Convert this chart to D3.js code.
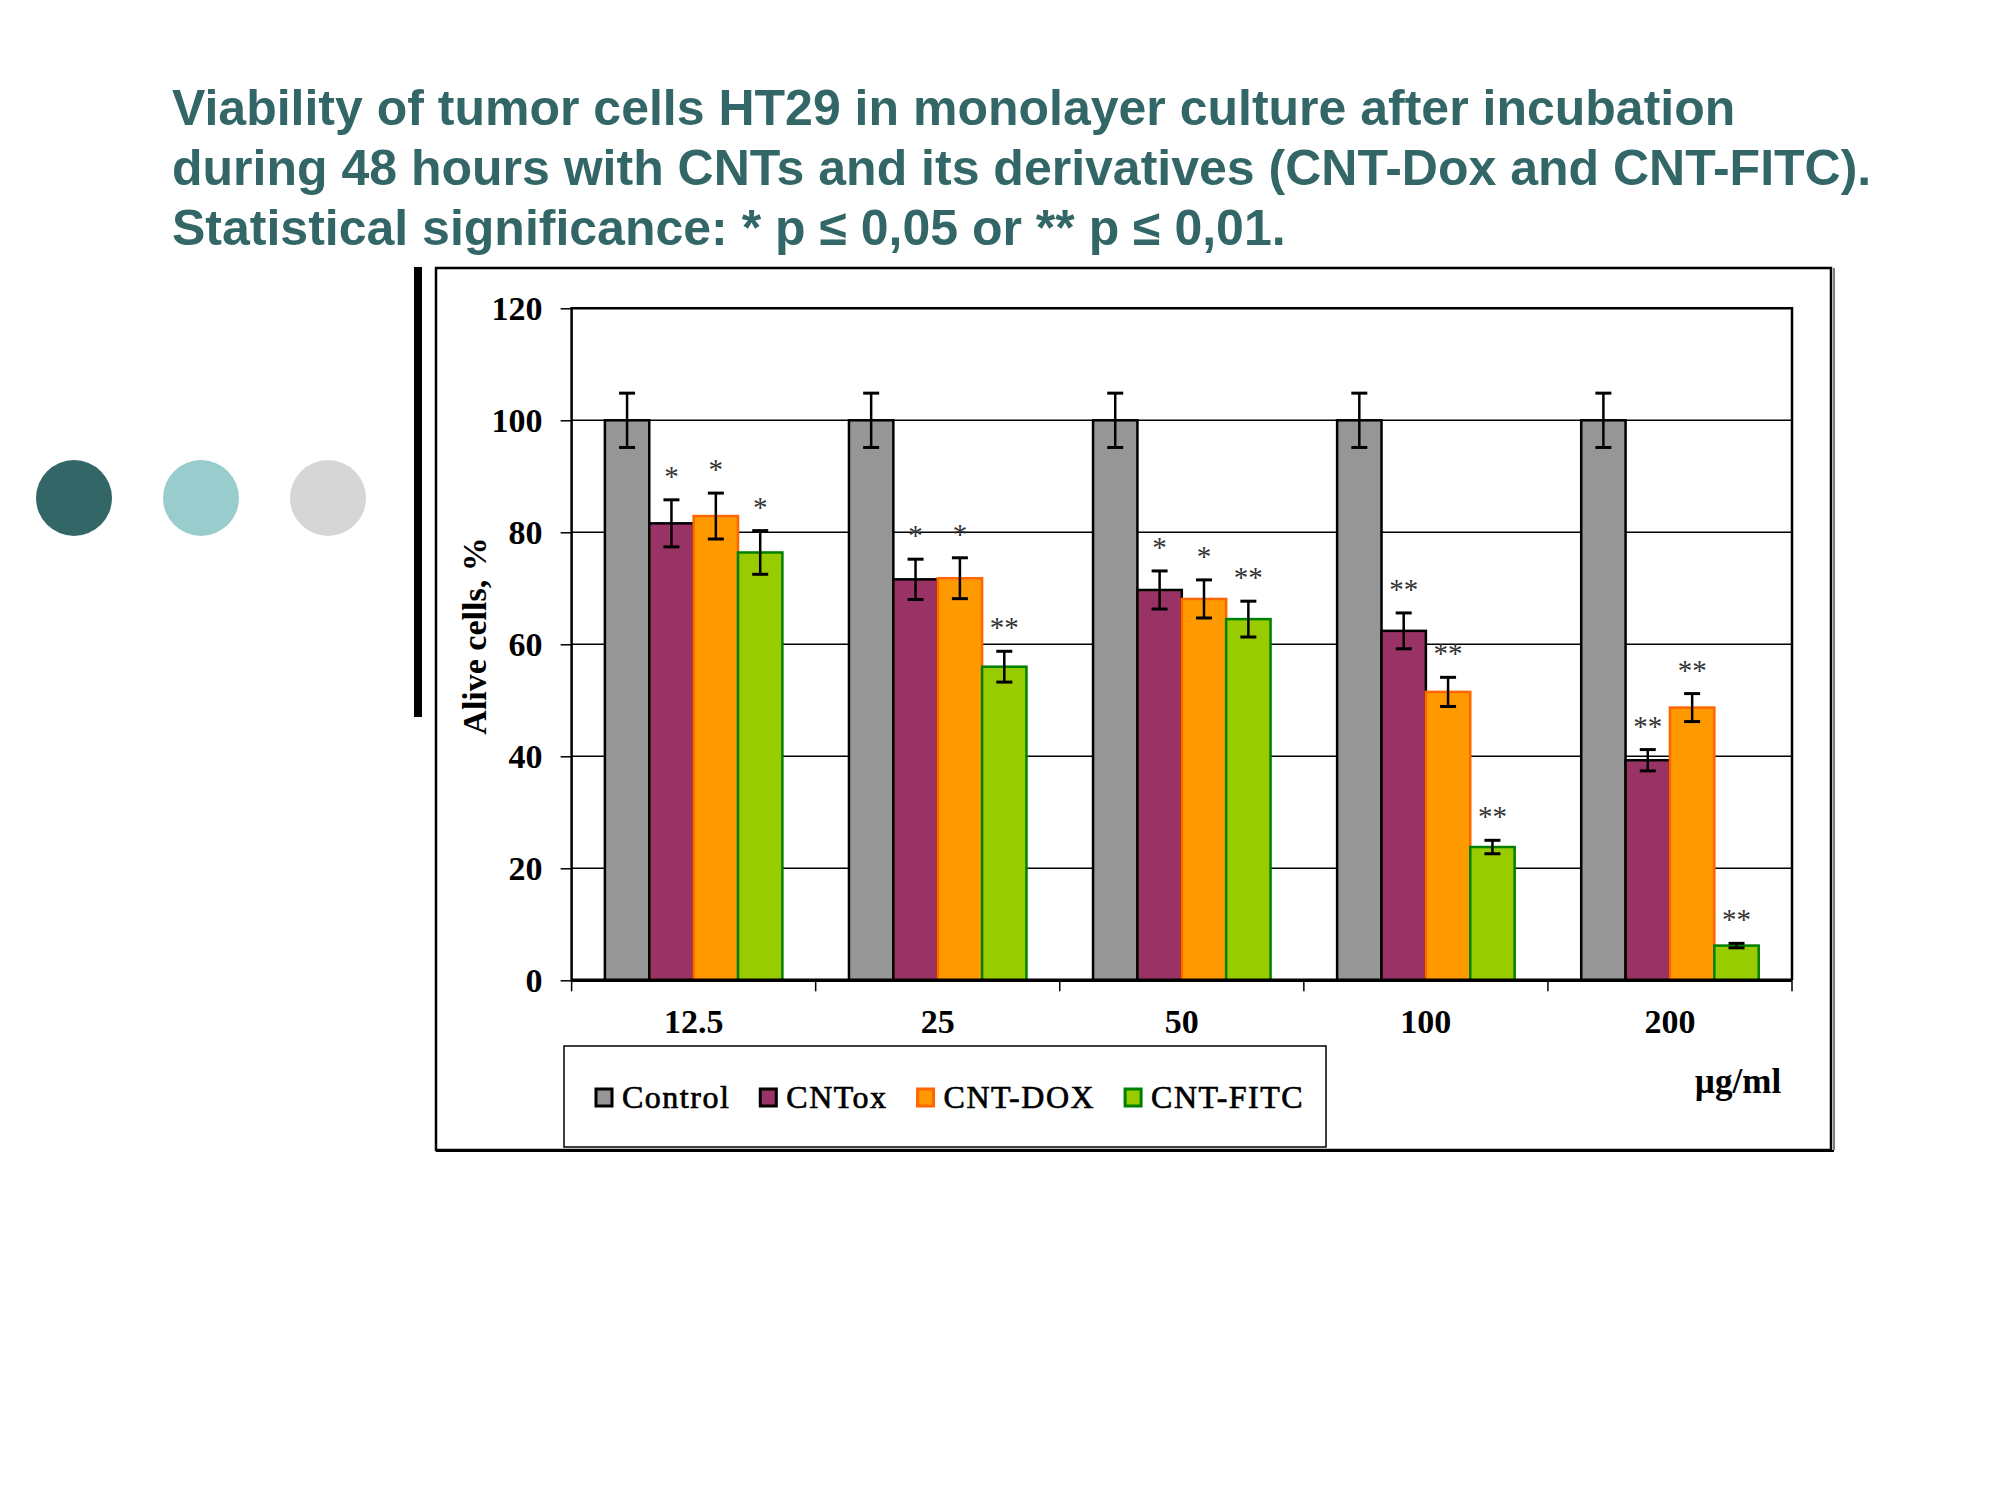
<!DOCTYPE html>
<html>
<head>
<meta charset="utf-8">
<script src="https://cdn.jsdelivr.net/npm/d3@7"></script>
<style>
  body { margin: 0; background: #fff; }
  svg { display: block; }
</style>
</head>
<body>
<div id="chart"></div>
<script>
// Concentrations (x categories) and series
const groups = ["12.5", "25", "50", "100", "200"];
const seriesNames = ["Control", "CNTox", "CNT-DOX", "CNT-FITC"];

const control = [100, 100, 100, 100, 100];
const controlErr = [4.85, 4.85, 4.85, 4.85, 4.85];
const cntox = [81.6, 71.6, 69.7, 62.4, 39.3];
const cntoxErr = [4.2, 3.6, 3.4, 3.2, 1.9];
const cntDox = [82.9, 71.8, 68.1, 51.5, 48.7];
const cntDoxErr = [4.1, 3.65, 3.4, 2.6, 2.5];
const cntFitc = [76.4, 56.0, 64.5, 23.8, 6.2];
const cntFitcErr = [3.9, 2.75, 3.2, 1.2, 0.4];

// significance marks above each bar ("" = none)
const controlSig = ["", "", "", "", ""];
const cntoxSig = ["*", "*", "*", "**", "**"];
const cntDoxSig = ["*", "*", "*", "**", "**"];
const cntFitcSig = ["*", "**", "**", "**", "**"];

const yTicks = [0, 20, 40, 60, 80, 100, 120];

const titleLines = [
	"Viability of tumor cells HT29 in monolayer culture after incubation",
	"during 48 hours with CNTs and its derivatives (CNT-Dox and CNT-FITC).",
	"Statistical significance: * p \u2264 0,05 or ** p \u2264 0,01."
];
const dotColors = ["#336666", "#99CCCC", "#D6D6D6"];

const fills = ["#969696", "#993366", "#FF9900", "#99CC00"];
const strokes = ["#000000", "#000000", "#FF6600", "#008000"];

const values = [control, cntox, cntDox, cntFitc];
const errors = [controlErr, cntoxErr, cntDoxErr, cntFitcErr];
const sigs = [controlSig, cntoxSig, cntDoxSig, cntFitcSig];

const W = 2000, H = 1500;
const svg = d3.select("#chart").append("svg")
	.attr("width", W)
	.attr("height", H);

// title
svg.append("g").selectAll("text")
	.data(titleLines)
	.join("text")
	.attr("x", 172)
	.attr("y", (d, i) => 125 + i * 60)
	.attr("font-family", "'Liberation Sans', Arial, sans-serif")
	.attr("font-weight", "bold")
	.attr("font-size", 50)
	.attr("fill", "#336666")
	.text(d => d);

// decorative dots
svg.append("g").selectAll("circle")
	.data(dotColors)
	.join("circle")
	.attr("cx", (d, i) => 74 + i * 127)
	.attr("cy", 498)
	.attr("r", 38)
	.attr("fill", d => d);

// heavy vertical bar
svg.append("rect")
	.attr("x", 414).attr("y", 267)
	.attr("width", 8).attr("height", 450)
	.attr("fill", "#000");

// outer chart frame
const frame = { left: 436, top: 268, right: 1831, bottom: 1150 };
svg.append("rect")
	.attr("x", frame.left).attr("y", frame.top)
	.attr("width", frame.right - frame.left)
	.attr("height", frame.bottom - frame.top)
	.attr("fill", "none")
	.attr("stroke", "#000")
	.attr("stroke-width", 2.5);
svg.append("line")
	.attr("x1", frame.right + 3).attr("x2", frame.right + 3)
	.attr("y1", frame.top).attr("y2", frame.bottom)
	.attr("stroke", "#000").attr("stroke-width", 1);
svg.append("line")
	.attr("x1", frame.left).attr("x2", frame.right + 3)
	.attr("y1", frame.bottom + 1).attr("y2", frame.bottom + 1)
	.attr("stroke", "#000").attr("stroke-width", 2);

// plot area
const margin = { top: 308.3, left: 571.6 };
const pw = 1792 - 571.6, ph = 980.3 - 308.3;
const g = svg.append("g").attr("transform", `translate(${margin.left},${margin.top})`);

const x0 = d3.scaleBand().domain(groups).range([0, pw]).padding(0);
const x1 = d3.scaleBand().domain(seriesNames).range([0, x0.bandwidth()])
	.paddingInner(0).paddingOuter(0.75);
const y = d3.scaleLinear().domain([0, 120]).range([ph, 0]);

// gridlines
g.append("g").selectAll("line")
	.data(yTicks.filter(t => t > 0 && t < 120))
	.join("line")
	.attr("x1", 0).attr("x2", pw)
	.attr("y1", d => y(d)).attr("y2", d => y(d))
	.attr("stroke", "#000").attr("stroke-width", 1.5);

// bars
const rows = [];
groups.forEach((grp, gi) => {
	seriesNames.forEach((s, si) => {
		rows.push({ grp, s, si, v: values[si][gi], e: errors[si][gi], sig: sigs[si][gi] });
	});
});

g.append("g").selectAll("rect")
	.data(rows)
	.join("rect")
	.attr("x", d => x0(d.grp) + x1(d.s))
	.attr("y", d => y(d.v))
	.attr("width", x1.bandwidth())
	.attr("height", d => y(0) - y(d.v))
	.attr("fill", d => fills[d.si])
	.attr("stroke", d => strokes[d.si])
	.attr("stroke-width", 2.5);

// error bars
const eb = g.append("g").attr("stroke", "#000");
const cx = d => x0(d.grp) + x1(d.s) + x1.bandwidth() / 2;
eb.selectAll("line.v").data(rows).join("line").attr("class", "v")
	.attr("x1", cx).attr("x2", cx)
	.attr("y1", d => y(d.v + d.e)).attr("y2", d => y(d.v - d.e))
	.attr("stroke-width", 2.5);
eb.selectAll("line.top").data(rows).join("line").attr("class", "top")
	.attr("x1", d => cx(d) - 8).attr("x2", d => cx(d) + 8)
	.attr("y1", d => y(d.v + d.e)).attr("y2", d => y(d.v + d.e))
	.attr("stroke-width", 3);
eb.selectAll("line.bot").data(rows).join("line").attr("class", "bot")
	.attr("x1", d => cx(d) - 8).attr("x2", d => cx(d) + 8)
	.attr("y1", d => y(d.v - d.e)).attr("y2", d => y(d.v - d.e))
	.attr("stroke-width", 3);

// significance stars
g.append("g").selectAll("text")
	.data(rows.filter(d => d.sig))
	.join("text")
	.attr("x", cx)
	.attr("y", d => y(d.v + d.e) - 14)
	.attr("text-anchor", "middle")
	.attr("font-family", "'Liberation Serif', 'Times New Roman', serif")
	.attr("font-size", 29)
	.attr("fill", "#333")
	.text(d => d.sig);

// plot border (top, left, right)
g.append("path")
	.attr("d", `M0,${ph}V0H${pw}V${ph}`)
	.attr("fill", "none")
	.attr("stroke", "#000")
	.attr("stroke-width", 2.5);

// y axis
const yAxis = d3.axisLeft(y).tickValues(yTicks).tickSize(11).tickPadding(18)
	.tickFormat(d3.format("d"));
const ya = g.append("g").call(yAxis);
ya.select(".domain").remove();
ya.selectAll(".tick line").attr("stroke", "#000").attr("stroke-width", 1.5);
ya.selectAll(".tick text")
	.attr("font-family", "'Liberation Serif', 'Times New Roman', serif")
	.attr("font-weight", "bold")
	.attr("font-size", 34)
	.attr("fill", "#000")
	.attr("dy", "0.34em");

// x axis: ticks at group boundaries
const xa = g.append("g").attr("transform", `translate(0,${ph})`);
xa.append("line")
	.attr("x1", 0).attr("x2", pw)
	.attr("stroke", "#000").attr("stroke-width", 3.5);
xa.selectAll("line.tk")
	.data(groups.map(d => x0(d)).concat([pw]))
	.join("line").attr("class", "tk")
	.attr("x1", d => d).attr("x2", d => d)
	.attr("y1", 0).attr("y2", 11)
	.attr("stroke", "#000").attr("stroke-width", 1.5);
xa.selectAll("text")
	.data(groups)
	.join("text")
	.attr("x", d => x0(d) + x0.bandwidth() / 2)
	.attr("y", 53)
	.attr("text-anchor", "middle")
	.attr("font-family", "'Liberation Serif', 'Times New Roman', serif")
	.attr("font-weight", "bold")
	.attr("font-size", 34)
	.text(d => d);

// y axis title
svg.append("text")
	.attr("transform", "translate(486,636) rotate(-90)")
	.attr("text-anchor", "middle")
	.attr("font-family", "'Liberation Serif', 'Times New Roman', serif")
	.attr("font-weight", "bold")
	.attr("font-size", 34)
	.text("Alive cells, %");

// unit label
svg.append("text")
	.attr("x", 1738).attr("y", 1093)
	.attr("text-anchor", "middle")
	.attr("font-family", "'Liberation Serif', 'Times New Roman', serif")
	.attr("font-weight", "bold")
	.attr("font-size", 35)
	.text("\u00b5g/ml");

// legend
svg.append("rect")
	.attr("x", 564).attr("y", 1046)
	.attr("width", 762).attr("height", 101)
	.attr("fill", "#fff")
	.attr("stroke", "#000").attr("stroke-width", 1.5);
let lx = 596;
seriesNames.forEach((s, i) => {
	svg.append("rect")
		.attr("x", lx).attr("y", 1089)
		.attr("width", 16).attr("height", 17)
		.attr("fill", fills[i])
		.attr("stroke", strokes[i]).attr("stroke-width", 3);
	const t = svg.append("text")
		.attr("x", lx + 26).attr("y", 1108)
		.attr("font-family", "'Liberation Serif', 'Times New Roman', serif")
		.attr("font-size", 32)
		.attr("letter-spacing", 1.5)
		.attr("fill", "#000")
		.attr("stroke", "#000").attr("stroke-width", 0.7)
		.text(s);
	lx += 26 + t.node().getComputedTextLength() + 30;
});
</script>
</body>
</html>
